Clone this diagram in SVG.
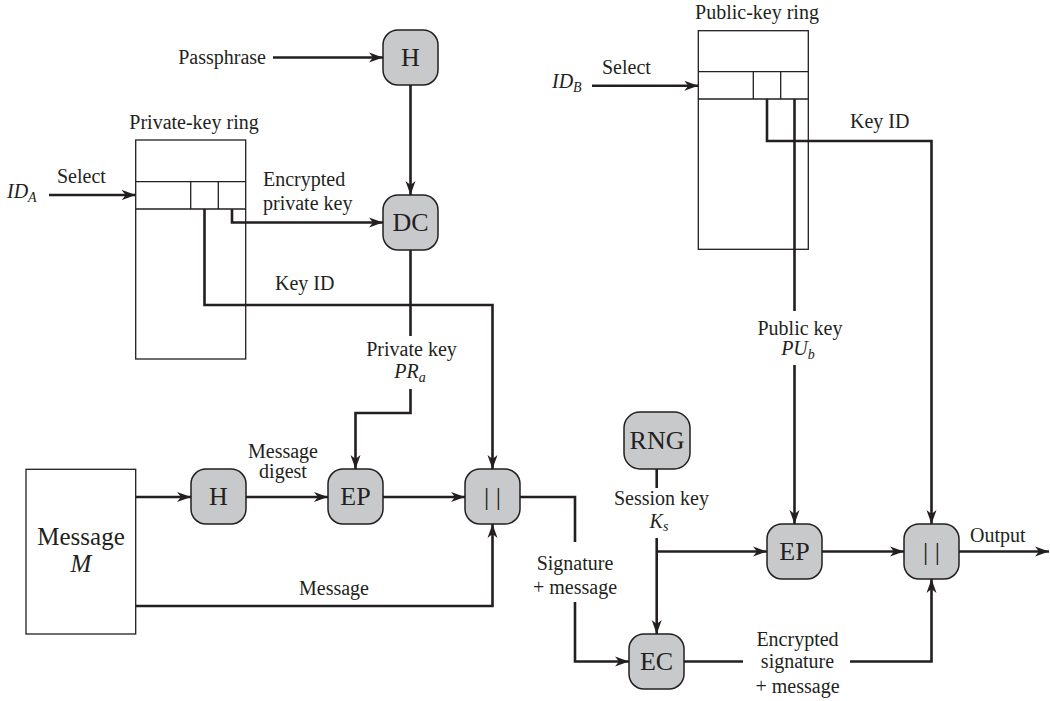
<svg xmlns="http://www.w3.org/2000/svg" width="1050" height="701" viewBox="0 0 1050 701">
<style>
text{font-family:"Liberation Serif","Times New Roman",serif;fill:#231f20}
.lbl{font-size:20px}
.it{font-style:italic}
.nl{font-size:26px;text-anchor:middle}
.mid{text-anchor:middle}
.node{fill:#c8c9cb;stroke:#231f20;stroke-width:1.5}
.ring{fill:#fff;stroke:#231f20;stroke-width:1.3}
.c{fill:none;stroke:#231f20;stroke-width:2.6}
.ca{fill:none;stroke:#231f20;stroke-width:2.6;marker-end:url(#ah)}
</style>
<defs>
<marker id="ah" markerUnits="userSpaceOnUse" markerWidth="15" markerHeight="11" refX="14" refY="5.5" orient="auto">
<path d="M0,0.5 L14,5.5 L0,10.5 L4,5.5 Z" fill="#231f20"/>
</marker>
</defs>
<rect width="1050" height="701" fill="#fff"/>

<g id="private-key-ring">
<rect class="ring" x="135.7" y="140" width="110" height="219"/>
<path class="ring" d="M135.7,181.7 H245.7 M135.7,209 H245.7 M190.7,181.7 V209 M218.3,181.7 V209"/>
<text class="lbl mid" x="194" y="129">Private-key ring</text>
</g>
<g id="public-key-ring">
<rect class="ring" x="698.3" y="30.7" width="110" height="218.6"/>
<path class="ring" d="M698.3,71.7 H808.3 M698.3,99 H808.3 M753.3,71.7 V99 M780.7,71.7 V99"/>
<text class="lbl mid" x="757" y="19">Public-key ring</text>
</g>
<g id="message-box">
<rect class="ring" x="26" y="469.3" width="109.7" height="164.7"/>
<text class="mid" style="font-size:25px" x="81" y="545">Message</text>
<text class="mid it" style="font-size:25px" x="81" y="572">M</text>
</g>

<g id="node-H1"><rect class="node" x="383" y="30" width="55" height="55" rx="15"/><text class="nl" x="410.5" y="66">H</text></g>
<g id="node-DC"><rect class="node" x="383" y="195" width="55" height="55" rx="15"/><text class="nl" x="410.5" y="231">DC</text></g>
<g id="node-H2"><rect class="node" x="191" y="469" width="55" height="55" rx="15"/><text class="nl" x="218.5" y="505">H</text></g>
<g id="node-EP1"><rect class="node" x="328" y="469" width="55" height="55" rx="15"/><text class="nl" x="355.5" y="505">EP</text></g>
<g id="node-concat1"><rect class="node" x="465" y="469" width="55" height="55" rx="15"/><text class="nl" x="492.5" y="505">| |</text></g>
<g id="node-RNG"><rect class="node" x="624" y="412" width="66" height="57" rx="16"/><text class="nl" x="657" y="449">RNG</text></g>
<g id="node-EP2"><rect class="node" x="767" y="524" width="55" height="55" rx="15"/><text class="nl" x="794.5" y="560">EP</text></g>
<g id="node-concat2"><rect class="node" x="904" y="524" width="55" height="55" rx="15"/><text class="nl" x="931.5" y="560">| |</text></g>
<g id="node-EC"><rect class="node" x="629" y="634" width="55" height="55" rx="15"/><text class="nl" x="656.5" y="670">EC</text></g>

<g id="connectors">
<path class="ca" d="M273,57.5 H383"/>
<path class="ca" d="M410.5,85 V195"/>
<path class="ca" d="M49,195 H135.7"/>
<path class="ca" d="M232,209 V222.5 H383"/>
<path class="ca" d="M204.5,209 V305 H492.5 V469"/>
<path class="c" d="M410.5,250 V336"/>
<path class="ca" d="M410.5,389 V413 H355.5 V469"/>
<path class="ca" d="M136,497 H191"/>
<path class="ca" d="M246,497 H328"/>
<path class="ca" d="M383,497 H465"/>
<path class="ca" d="M136,606 H492.5 V524"/>
<path class="c" d="M520,497 H575 V542"/>
<path class="ca" d="M575,602 V661.5 H629"/>
<path class="c" d="M656.7,469 V488"/>
<path class="ca" d="M656.7,538 V634"/>
<path class="ca" d="M656.7,551.5 H767"/>
<path class="ca" d="M822,551.5 H904"/>
<path class="ca" d="M959,551.5 H1049"/>
<path class="c" d="M684,661.5 H743"/>
<path class="ca" d="M850,661.5 H931.5 V579"/>
<path class="ca" d="M592,85.7 H698.3"/>
<path class="ca" d="M767,99 V141 H931.5 V524"/>
<path class="c" d="M794.5,99 V311"/>
<path class="ca" d="M794.5,365 V524"/>
</g>

<g id="labels">
<text class="lbl" x="266" y="64" text-anchor="end">Passphrase</text>
<text class="lbl" x="57" y="183">Select</text>
<text class="lbl it" x="7" y="198">ID<tspan style="font-size:14px" dy="4">A</tspan></text>
<text class="lbl" x="263" y="186">Encrypted</text>
<text class="lbl" x="263" y="210">private key</text>
<text class="lbl" x="275" y="290">Key ID</text>
<text class="lbl mid" x="411.5" y="356">Private key</text>
<text class="lbl it mid" x="410" y="378">PR<tspan style="font-size:14px" dy="4">a</tspan></text>
<text class="lbl mid" x="283" y="458">Message</text>
<text class="lbl mid" x="283" y="478">digest</text>
<text class="lbl mid" x="334" y="595">Message</text>
<text class="lbl mid" x="575" y="570">Signature</text>
<text class="lbl mid" x="575" y="594">+ message</text>
<text class="lbl" x="602" y="74">Select</text>
<text class="lbl it" x="552" y="88">ID<tspan style="font-size:14px" dy="4">B</tspan></text>
<text class="lbl" x="850" y="128">Key ID</text>
<text class="lbl mid" x="800" y="335">Public key</text>
<text class="lbl it mid" x="798" y="355">PU<tspan style="font-size:14px" dy="4">b</tspan></text>
<text class="lbl mid" x="661.5" y="505">Session key</text>
<text class="lbl it mid" x="659" y="528">K<tspan style="font-size:14px" dy="3">s</tspan></text>
<text class="lbl" x="970" y="542">Output</text>
<text class="lbl mid" x="797.5" y="646">Encrypted</text>
<text class="lbl mid" x="797.5" y="668">signature</text>
<text class="lbl mid" x="797.5" y="693">+ message</text>
</g>
</svg>
